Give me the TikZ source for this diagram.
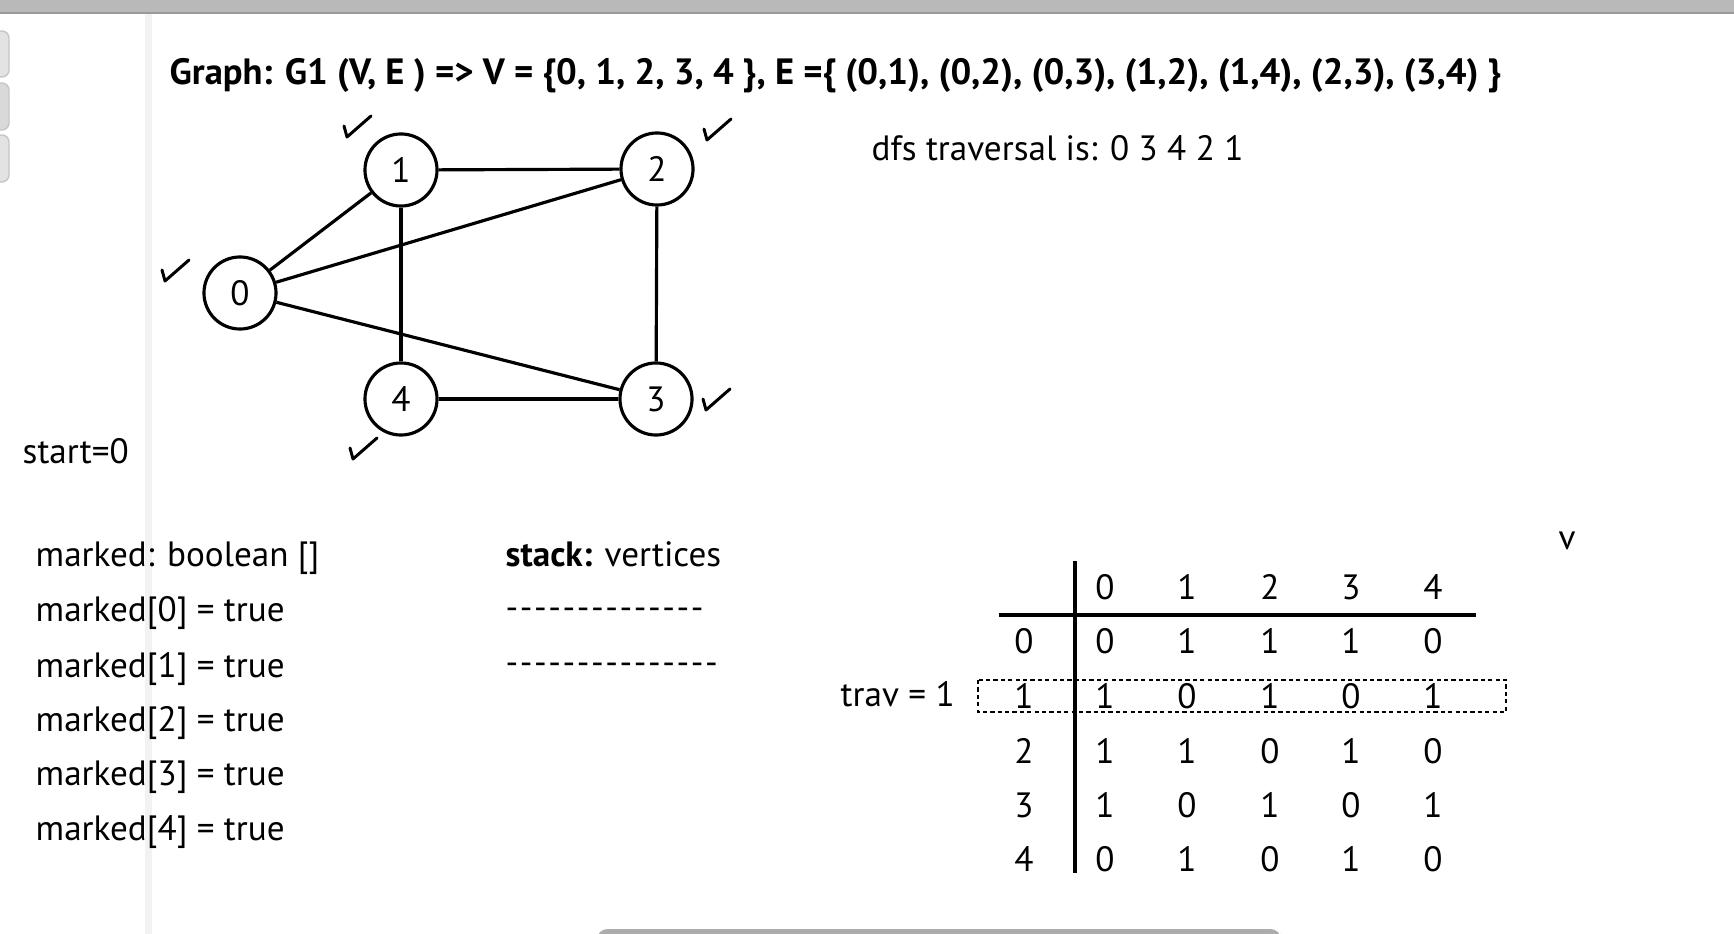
\documentclass[tikz,border=0pt]{standalone}
\usepackage{fontspec}
\setmainfont{PT Sans}
\newcommand\bodysize{\fontsize{10}{12}\selectfont}
\newcommand\titlesize{\fontsize{10.4}{12}\selectfont}
\newcommand\hy{-\kern0.45pt}
\tikzset{
	vtx/.style={draw, circle, line width=0.9pt, minimum size=0.72cm, inner sep=0pt, font=\bodysize},
	edg/.style={line width=0.9pt},
	txt/.style={anchor=base west, inner sep=0pt, font=\bodysize},
	cell/.style={inner sep=0pt, font=\bodysize},
	chk/.pic={\draw[line width=0.85pt, line cap=round, line join=round] (-13,-1) -- (-10,10) -- (6,-4) -- (14,-11);},
}

\begin{document}
\begin{tikzpicture}[x=0.01cm, y=-0.01cm]
\useasboundingbox (0,0) rectangle (1734,934);
% window chrome
\fill[gray!55] (0,0) rectangle (1734,13);
\draw[gray!80, line width=0.5pt] (0,13) -- (1734,13);
\fill[gray!10] (145,14) rectangle (152,934);
\draw[gray!45, fill=gray!22, rounded corners=2pt] (-6,31) rectangle (9,77);
\draw[gray!45, fill=gray!30, rounded corners=2pt] (-6,83) rectangle (9,130);
\draw[gray!45, fill=gray!22, rounded corners=2pt] (-6,135) rectangle (9,182);
\fill[gray!65, rounded corners=3pt] (597,929) rectangle (1281,944);

% title
\node[txt, font=\titlesize\bfseries] (title) at (169,85) {Graph: G1 (V, E ) => V = \{0, 1, 2, 3, 4 \}, E =\{ (0,1), (0,2), (0,3), (1,2), (1,4), (2,3), (3,4) \}};
\node[txt] (dfs) at (871,161) {dfs traversal is: 0 3 4 2 1};

% graph
\node[vtx] (v0) at (240,293) {0};
\node[vtx] (v1) at (401,170) {1};
\node[vtx] (v2) at (657,169) {2};
\node[vtx] (v3) at (656,399) {3};
\node[vtx] (v4) at (401,399) {4};
\draw[edg] (v0) -- (v1);
\draw[edg] (v0) -- (v2);
\draw[edg] (v0) -- (v3);
\draw[edg] (v1) -- (v2);
\draw[edg] (v1) -- (v4);
\draw[edg] (v2) -- (v3);
\draw[edg] (v3) -- (v4);
% visited marks
\pic at (175,271) {chk};
\pic at (357,127) {chk};
\pic at (717,130) {chk};
\pic at (716,400) {chk};
\pic at (363,449) {chk};

\node[txt] (start) at (22,464) {start=0};

% marked array
\node[txt] (mk) at (35,567) {marked: boolean []};
\node[txt] (mk0) at (35,621) {marked[0] = true};
\node[txt] (mk1) at (35,677) {marked[1] = true};
\node[txt] (mk2) at (35,731) {marked[2] = true};
\node[txt] (mk3) at (35,785) {marked[3] = true};
\node[txt] (mk4) at (35,840) {marked[4] = true};

% stack
\node[txt] (stk) at (505,567) {\textbf{stack:} vertices};
\node[txt] (stk0) at (505,619) {\hy\hy\hy\hy\hy\hy\hy\hy\hy\hy\hy\hy\hy\hy};
\node[txt] (stk1) at (505,674) {\hy\hy\hy\hy\hy\hy\hy\hy\hy\hy\hy\hy\hy\hy\hy};

\node[txt] (v) at (1558,550) {v};

% adjacency matrix
\coordinate (vt) at (1075,561);
\coordinate (vb) at (1075,873);
\coordinate (hl) at (999,615);
\coordinate (hr) at (1476,615);
\draw[edg] (vt) -- (vb);
\draw[edg] (hl) -- (hr);
\node[cell] (c0) at (1105,587) {0};
\node[cell] (c1) at (1187,587) {1};
\node[cell] (c2) at (1270,587) {2};
\node[cell] (c3) at (1351,587) {3};
\node[cell] (c4) at (1433,587) {4};
\node[cell] (r0) at (1024,641) {0};
\node[cell] (r1) at (1024,696) {1};
\node[cell] (r2) at (1024,751) {2};
\node[cell] (r3) at (1024,805) {3};
\node[cell] (r4) at (1024,859) {4};
\node[cell] (a00) at (1105,641) {0};
\node[cell] (a01) at (1187,641) {1};
\node[cell] (a02) at (1270,641) {1};
\node[cell] (a03) at (1351,641) {1};
\node[cell] (a04) at (1433,641) {0};
\node[cell] (a10) at (1105,696) {1};
\node[cell] (a11) at (1187,696) {0};
\node[cell] (a12) at (1270,696) {1};
\node[cell] (a13) at (1351,696) {0};
\node[cell] (a14) at (1433,696) {1};
\node[cell] (a20) at (1105,751) {1};
\node[cell] (a21) at (1187,751) {1};
\node[cell] (a22) at (1270,751) {0};
\node[cell] (a23) at (1351,751) {1};
\node[cell] (a24) at (1433,751) {0};
\node[cell] (a30) at (1105,805) {1};
\node[cell] (a31) at (1187,805) {0};
\node[cell] (a32) at (1270,805) {1};
\node[cell] (a33) at (1351,805) {0};
\node[cell] (a34) at (1433,805) {1};
\node[cell] (a40) at (1105,859) {0};
\node[cell] (a41) at (1187,859) {1};
\node[cell] (a42) at (1270,859) {0};
\node[cell] (a43) at (1351,859) {1};
\node[cell] (a44) at (1433,859) {0};
% current row
\draw[line width=0.8pt, dash pattern=on 1.2pt off 0.9pt] (978,680) rectangle (1506,712);
\node[txt] (trav) at (840,706) {trav = 1};
\end{tikzpicture}
\end{document}
